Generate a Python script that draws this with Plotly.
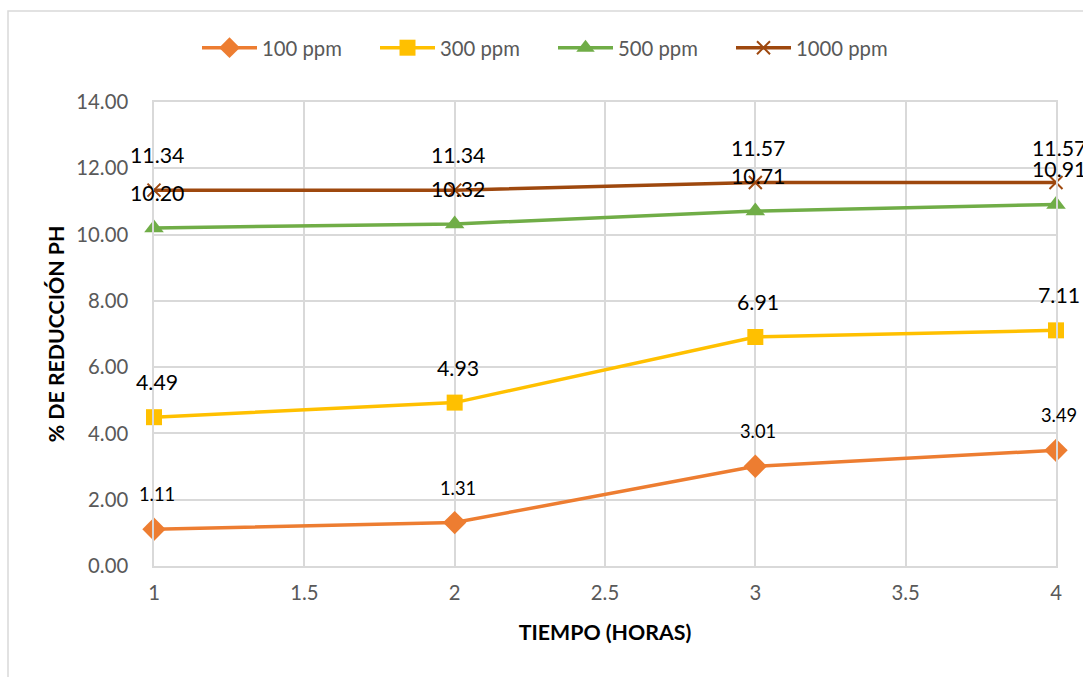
import plotly.graph_objects as go

horas = [1, 2, 3, 4]
series_names = ["100 ppm", "300 ppm", "500 ppm", "1000 ppm"]
v100 = [1.11, 1.31, 3.01, 3.49]
v300 = [4.49, 4.93, 6.91, 7.11]
v500 = [10.20, 10.32, 10.71, 10.91]
v1000 = [11.34, 11.34, 11.57, 11.57]
x_ticks = [1, 1.5, 2, 2.5, 3, 3.5, 4]
y_ticks = [0, 2, 4, 6, 8, 10, 12, 14]

values = [v100, v300, v500, v1000]
colors = ["#ED7D31", "#FFC000", "#70AD47", "#9E480E"]
symbols = ["diamond", "square", "triangle-up", "x-thin"]
msizes = [18, 16, 17, 13]
label_sizes = [18.3, 21.3, 21.3, 21.3]

FONT = "Lato"

fig = go.Figure()
for name, vals, col, sym, ms in zip(series_names, values, colors, symbols, msizes):
    marker = dict(symbol=sym, size=ms, color=col)
    if sym == "x-thin":
        marker["line"] = dict(color=col, width=2)
    fig.add_trace(go.Scatter(
        x=horas, y=vals, name=name, mode="lines+markers",
        line=dict(color=col, width=3.5), marker=marker, cliponaxis=False,
    ))

annotations = []
for vals, ls in zip(values, label_sizes):
    for xv, yv in zip(horas, vals):
        annotations.append(dict(
            x=xv, y=yv, xref="x", yref="y", text=f"{yv:.2f}", showarrow=False,
            yshift=35, xshift=3, font=dict(family=FONT, size=ls, color="#000000"),
        ))

L, T, PW, PH = 154, 102, 902, 464
fig.update_layout(
    width=1083, height=677,
    margin=dict(l=L, r=1083 - L - PW, t=T, b=677 - T - PH, autoexpand=False),
    paper_bgcolor="white", plot_bgcolor="white",
    font=dict(family=FONT, color="#595959"),
    showlegend=True,
    legend=dict(orientation="h", x=(197 - L) / PW, xanchor="left", y=(T + PH - 48) / PH, yanchor="middle",
                font=dict(family=FONT, size=20.3, color="#595959"),
                itemwidth=55, entrywidth=108, entrywidthmode="pixels",
                traceorder="normal"),
    annotations=annotations,
    shapes=[dict(type="rect", xref="paper", yref="paper",
                 x0=(8 - L) / PW, x1=1.2, y0=-0.5, y1=(T + PH - 11) / PH,
                 line=dict(color="#D9D9D9", width=1.5), layer="below")],
)
fig.update_xaxes(
    range=[1, 4], tickvals=x_ticks, ticktext=[f"{t:g}" for t in x_ticks],
    showgrid=True, gridcolor="#D9D9D9", gridwidth=1.5, zeroline=False,
    showline=True, linecolor="#D9D9D9", linewidth=1.5, mirror=True,
    tickfont=dict(family=FONT, size=20.3, color="#595959"), ticklabelstandoff=8,
    title=dict(text="<b>TIEMPO (HORAS)</b>", font=dict(family=FONT, size=21.3, color="#000000"), standoff=22),
)
fig.update_yaxes(
    range=[0, 14], tickvals=y_ticks, ticktext=[f"{t:.2f}" for t in y_ticks],
    showgrid=True, gridcolor="#D9D9D9", gridwidth=1.5, zeroline=False,
    showline=True, linecolor="#D9D9D9", linewidth=1.5, mirror=True,
    tickfont=dict(family=FONT, size=20.3, color="#595959"), ticklabelstandoff=20,
    title=dict(text="<b>% DE REDUCCIÓN PH</b>", font=dict(family=FONT, size=21.3, color="#000000"), standoff=6),
)

fig.write_html(
    "out.html",
    config={"displayModeBar": False},
    post_script="document.body.style.margin='0';document.documentElement.style.overflow='hidden';",
)
